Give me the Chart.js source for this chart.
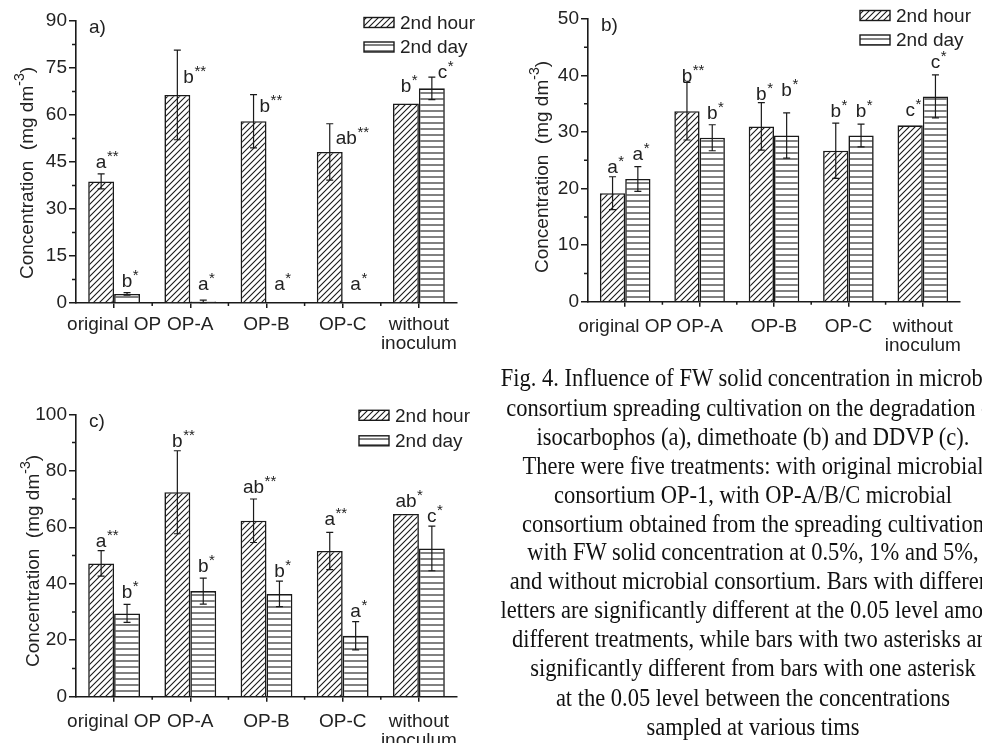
<!DOCTYPE html>
<html>
<head>
<meta charset="utf-8">
<script src="https://cdn.jsdelivr.net/npm/chart.js@4.4.0/dist/chart.umd.min.js"></script>
<style>
html,body{margin:0;padding:0;background:#fff;}
body{width:982px;height:743px;overflow:hidden;position:relative;}
.panel{position:absolute;}
#caption{position:absolute;left:433px;width:640px;top:364px;font-family:"Liberation Serif","Times New Roman",serif;font-size:22.5px;line-height:25.9px;text-align:center;color:#111;white-space:nowrap;transform:scaleY(1.12);transform-origin:50% 0;}
</style>
</head>
<body>
<div class="panel" style="left:0;top:0;"><canvas id="chartA" width="480" height="365"></canvas></div>
<div class="panel" style="left:490px;top:0;"><canvas id="chartB" width="492" height="365"></canvas></div>
<div class="panel" style="left:0;top:370px;"><canvas id="chartC" width="480" height="373"></canvas></div>
<div id="caption">
Fig. 4. Influence of FW solid concentration in microbial<br>
consortium spreading cultivation on the degradation of<br>
isocarbophos (a), dimethoate (b) and DDVP (c).<br>
There were five treatments: with original microbial<br>
consortium OP-1, with OP-A/B/C microbial<br>
consortium obtained from the spreading cultivation<br>
with FW solid concentration at 0.5%, 1% and 5%,<br>
and without microbial consortium. Bars with different<br>
letters are significantly different at the 0.05 level among<br>
different treatments, while bars with two asterisks are<br>
significantly different from bars with one asterisk<br>
at the 0.05 level between the concentrations<br>
sampled at various tims
</div>
<script>
// ---------- data ----------
const categories = ['original OP', 'OP-A', 'OP-B', 'OP-C', ['without', 'inoculum']];
const seriesNames = ['2nd hour', '2nd day'];

// a) isocarbophos
const ticksA = [0, 15, 30, 45, 60, 75, 90];
const hourA = [38.8, 66.4, 58.0, 48.2, 63.7];
const dayA = [2.9, 0.5, 0.2, 0.2, 68.5];
const hourErrA = [2.4, 14.3, 8.5, 9.0, 0];
const dayErrA = [0.4, 0.4, 0, 0, 3.6];
const hourLetA = ['a', 'b', 'b', 'ab', 'b'];
const hourStarA = ['**', '**', '**', '**', '*'];
const dayLetA = ['b', 'a', 'a', 'a', 'c'];
const dayStarA = ['*', '*', '*', '*', '*'];
const hourLabA = [43.0, 70.3, 61.0, 50.7, 67.4];
const dayLabA = [5.2, 4.1, 4.1, 4.1, 71.7];

// b) dimethoate
const ticksB = [0, 10, 20, 30, 40, 50];
const hourB = [19.2, 33.7, 31.0, 26.7, 31.2];
const dayB = [21.7, 29.0, 29.4, 29.4, 36.3];
const hourErrB = [2.9, 5.1, 4.2, 4.9, 0];
const dayErrB = [2.2, 2.3, 4.0, 2.0, 3.8];
const hourLetB = ['a', 'b', 'b', 'b', 'c'];
const hourStarB = ['*', '**', '*', '*', '*'];
const dayLetB = ['a', 'b', 'b', 'b', 'c'];
const dayStarB = ['*', '*', '*', '*', '*'];
const hourLabB = [22.7, 38.9, 35.7, 32.7, 32.8];
const dayLabB = [25.1, 32.4, 36.3, 32.7, 41.3];

// c) DDVP
const ticksC = [0, 20, 40, 60, 80, 100];
const hourC = [47.2, 72.4, 62.3, 51.6, 64.7];
const dayC = [29.5, 37.4, 36.4, 21.6, 52.5];
const hourErrC = [4.5, 14.7, 7.7, 6.6, 0];
const dayErrC = [3.2, 4.6, 4.5, 5.0, 7.9];
const hourLetC = ['a', 'b', 'ab', 'a', 'ab'];
const hourStarC = ['**', '**', '**', '**', '*'];
const dayLetC = ['b', 'b', 'b', 'a', 'c'];
const dayStarC = ['*', '*', '*', '*', '*'];
const hourLabC = [53.1, 88.5, 72.0, 60.8, 67.3];
const dayLabC = [34.8, 44.3, 42.3, 28.3, 62.0];

// ---------- styling ----------
const INK = '#1a1a1a';
const TXT = '#222';
const FAM = '"Liberation Sans", Arial, Helvetica, sans-serif';
Chart.defaults.font.family = FAM;
Chart.defaults.color = TXT;

function diagPattern() {
  const s = 6, c = document.createElement('canvas');
  c.width = s; c.height = s;
  const g = c.getContext('2d');
  g.fillStyle = '#fff'; g.fillRect(0, 0, s, s);
  g.strokeStyle = INK; g.lineWidth = 1.1;
  g.beginPath();
  g.moveTo(-1, s + 1); g.lineTo(s + 1, -1);
  g.moveTo(-1, 1); g.lineTo(1, -1);
  g.moveTo(s - 1, s + 1); g.lineTo(s + 1, s - 1);
  g.stroke();
  return g.createPattern(c, 'repeat');
}
function horizPattern() {
  const s = 6, c = document.createElement('canvas');
  c.width = s; c.height = s;
  const g = c.getContext('2d');
  g.fillStyle = '#fff'; g.fillRect(0, 0, s, s);
  g.strokeStyle = INK; g.lineWidth = 1.1;
  g.beginPath(); g.moveTo(0, 3); g.lineTo(s, 3); g.stroke();
  return g.createPattern(c, 'repeat');
}

function makeDecor(p) {
  return {
    id: 'decor',
    afterDraw(chart) {
      const ctx = chart.ctx, xs = chart.scales.x, ys = chart.scales.y, ca = chart.chartArea;
      ctx.save();
      // minor ticks
      ctx.strokeStyle = INK; ctx.lineWidth = 1.5;
      ctx.beginPath();
      for (let i = 0; i < p.ticks.length - 1; i++) {
        const y = ys.getPixelForValue((p.ticks[i] + p.ticks[i + 1]) / 2);
        ctx.moveTo(ca.left - 4, y); ctx.lineTo(ca.left, y);
      }
      for (let i = 1; i < categories.length; i++) {
        const x = (xs.getPixelForValue(i - 1) + xs.getPixelForValue(i)) / 2;
        ctx.moveTo(x, ca.bottom); ctx.lineTo(x, ca.bottom + 3);
      }
      ctx.stroke();
      // error bars + annotations
      for (let di = 0; di < 2; di++) {
        const meta = chart.getDatasetMeta(di);
        const vals = chart.data.datasets[di].data;
        meta.data.forEach((bar, i) => {
          const v = vals[i], e = p.errs[di][i];
          if (e) {
            const yt = ys.getPixelForValue(v + e), yb = ys.getPixelForValue(Math.max(0, v - e));
            ctx.strokeStyle = INK; ctx.lineWidth = 1.2;
            ctx.beginPath();
            ctx.moveTo(bar.x, yt); ctx.lineTo(bar.x, yb);
            ctx.moveTo(bar.x - 3.5, yt); ctx.lineTo(bar.x + 3.5, yt);
            ctx.moveTo(bar.x - 3.5, yb); ctx.lineTo(bar.x + 3.5, yb);
            ctx.stroke();
          }
          const letter = p.lets[di][i], star = p.stars[di][i], lab = p.labs[di][i];
          const yb2 = ys.getPixelForValue(lab);
          ctx.fillStyle = TXT;
          ctx.textBaseline = 'alphabetic';
          ctx.textAlign = 'left';
          ctx.font = '19px ' + FAM;
          const lw = ctx.measureText(letter).width;
          // a label that would sit on the error bar is moved to its right
          const lx = (e && lab < v + e) ? bar.x + 6 : bar.x - lw / 2;
          ctx.fillText(letter, lx, yb2);
          ctx.font = '15px ' + FAM;
          ctx.fillText(star, lx + lw + 0.5, yb2 - 7);
        });
      }
      // panel letter
      ctx.fillStyle = TXT; ctx.font = '19px ' + FAM;
      ctx.textAlign = 'left'; ctx.textBaseline = 'middle';
      ctx.fillText(p.panel, ca.left + 13, ca.top + 7);
      // legend
      const ds = chart.data.datasets;
      for (let k = 0; k < 2; k++) {
        const bx = ca.right + p.legDX, cy = ca.top + p.legDY + k * p.legGap;
        ctx.fillStyle = ds[k].backgroundColor;
        ctx.fillRect(bx, cy - 5, 30, 10);
        ctx.strokeStyle = INK; ctx.lineWidth = 1.4;
        ctx.strokeRect(bx, cy - 5, 30, 10);
        ctx.fillStyle = TXT; ctx.font = '19px ' + FAM;
        ctx.textBaseline = 'middle';
        ctx.fillText(ds[k].label, bx + 36, cy + 1);
      }
      // y axis title with superscript
      ctx.translate(p.titleX, p.titleCY);
      ctx.rotate(-Math.PI / 2);
      const t1 = 'Concentration  (mg dm', t2 = '-3', t3 = ')';
      ctx.font = '19px ' + FAM; const w1 = ctx.measureText(t1).width, w3 = ctx.measureText(t3).width;
      ctx.font = '14px ' + FAM; const w2 = ctx.measureText(t2).width;
      let x0 = -(w1 + w2 + w3) / 2;
      ctx.textBaseline = 'alphabetic'; ctx.fillStyle = TXT;
      ctx.font = '19px ' + FAM; ctx.fillText(t1, x0, 7);
      ctx.font = '14px ' + FAM; ctx.fillText(t2, x0 + w1, -2);
      ctx.font = '19px ' + FAM; ctx.fillText(t3, x0 + w1 + w2, 7);
      ctx.restore();
    }
  };
}

function makeChart(id, p) {
  return new Chart(document.getElementById(id), {
    type: 'bar',
    data: {
      labels: categories,
      datasets: [
        { label: seriesNames[0], data: p.hour, backgroundColor: diagPattern(), borderColor: INK, borderWidth: 1.6 },
        { label: seriesNames[1], data: p.day, backgroundColor: horizPattern(), borderColor: INK, borderWidth: 1.6 }
      ]
    },
    options: {
      responsive: false,
      animation: false,
      events: [],
      layout: { padding: { top: p.padTop, right: p.padRight, left: 0, bottom: 0 } },
      datasets: { bar: { categoryPercentage: 0.68, barPercentage: 1 } },
      plugins: { legend: { display: false }, tooltip: { enabled: false } },
      scales: {
        x: {
          grid: { display: true, drawOnChartArea: false, drawTicks: true, tickLength: 5, offset: false, color: INK, lineWidth: 1.5 },
          border: { display: true, color: INK, width: 1.6 },
          ticks: { color: TXT, font: { size: 19, lineHeight: 1.0 }, padding: p.xPad, autoSkip: false, maxRotation: 0, minRotation: 0 },
          afterFit(s) { s.height = p.xH; }
        },
        y: {
          min: p.ticks[0], max: p.ticks[p.ticks.length - 1],
          afterBuildTicks(s) { s.ticks = p.ticks.map(v => ({ value: v })); },
          grid: { drawOnChartArea: false, drawTicks: true, tickLength: 7, color: INK, lineWidth: 1.5 },
          border: { display: true, color: INK, width: 1.6 },
          ticks: { color: TXT, font: { size: 19 }, padding: 2 },
          afterFit(s) { s.width = p.yW; }
        }
      }
    },
    plugins: [makeDecor(p)]
  });
}

makeChart('chartA', {
  hour: hourA, day: dayA, ticks: ticksA,
  errs: [hourErrA, dayErrA], lets: [hourLetA, dayLetA], stars: [hourStarA, dayStarA], labs: [hourLabA, dayLabA],
  panel: 'a)', yW: 76, padTop: 21, padRight: 23, xH: 62, xPad: 7.5,
  legDX: -93, legDY: 1.5, legGap: 24.5, titleX: 26, titleCY: 173
});
makeChart('chartB', {
  hour: hourB, day: dayB, ticks: ticksB,
  errs: [hourErrB, dayErrB], lets: [hourLetB, dayLetB], stars: [hourStarB, dayStarB], labs: [hourLabB, dayLabB],
  panel: 'b)', yW: 98, padTop: 19, padRight: 22, xH: 63.3, xPad: 11,
  legDX: -100, legDY: -3.5, legGap: 24.5, titleX: 51, titleCY: 167
});
makeChart('chartC', {
  hour: hourC, day: dayC, ticks: ticksC,
  errs: [hourErrC, dayErrC], lets: [hourLetC, dayLetC], stars: [hourStarC, dayStarC], labs: [hourLabC, dayLabC],
  panel: 'c)', yW: 76, padTop: 44.3, padRight: 23, xH: 46.3, xPad: 11,
  legDX: -98, legDY: 1, legGap: 25.5, titleX: 32, titleCY: 191
});
</script>
</body>
</html>
